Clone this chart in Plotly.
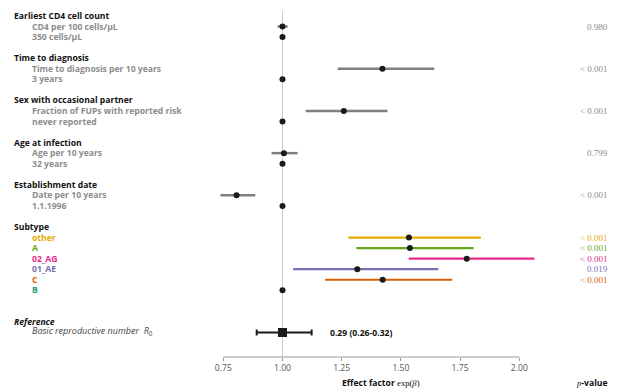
import plotly.graph_objects as go

# ---------------- data ----------------
groups = ["Earliest CD4 cell count", "Time to diagnosis", "Sex with occasional partner",
          "Age at infection", "Establishment date"]
effect_labels = ["CD4 per 100 cells/\u03bcL", "Time to diagnosis per 10 years",
                 "Fraction of FUPs with reported risk", "Age per 10 years", "Date per 10 years"]
baseline_labels = ["350 cells/\u03bcL", "3 years", "never reported", "32 years", "1.1.1996"]
est = [1.000, 1.422, 1.259, 1.006, 0.806]
lo = [0.979, 1.233, 1.098, 0.954, 0.738]
hi = [1.022, 1.641, 1.443, 1.064, 0.885]
pvals = ["0.980", "< 0.001", "< 0.001", "0.799", "< 0.001"]

subtypes = ["other", "A", "02_AG", "01_AE", "C"]
subtype_baseline = "B"
sub_est = [1.534, 1.538, 1.778, 1.316, 1.423]
sub_lo = [1.278, 1.312, 1.533, 1.045, 1.180]
sub_hi = [1.838, 1.807, 2.064, 1.658, 1.717]
sub_p = ["< 0.001", "< 0.001", "< 0.001", "0.019", "< 0.001"]
sub_colors = ["#E6AB02", "#66A61E", "#E7298A", "#7570B3", "#D95F02"]
baseline_color = "#1B9E77"

ref_est = 1.0
ref_lo = 0.891
ref_hi = 1.123
ref_text = "0.29 (0.26-0.32)"

x_ticks = [0.75, 1.00, 1.25, 1.50, 1.75, 2.00]
x_ticktext = ["0.75", "1.00", "1.25", "1.50", "1.75", "2.00"]

# ---------------- layout helpers ----------------
L, R, T, B = 212, 74, 0, 33
W, H = 617, 390
PW = W - L - R
PH = H - T - B


def px(xpix):
    return (xpix - L) / PW


def py(ypix):
    return (PH + T - ypix) / PH


LABEL_FONT = "Open Sans"
SERIF = "Liberation Serif"
SUBGRAY = "#8c8c8c"
PGRAY = "#8a8a8a"
FS = 8.6

fig = go.Figure()

# row assignments
head_rows = [4 * i for i in range(len(groups))]
eff_rows = [4 * i + 1 for i in range(len(groups))]
base_rows = [4 * i + 2 for i in range(len(groups))]
sub_head_row = 20
sub_rows = [21 + i for i in range(len(subtypes))]
sub_base_row = 21 + len(subtypes)
ref_head_row = 29
ref_row = 30

# reference vertical line
fig.add_shape(type="line", x0=1, x1=1, y0=-0.5, y1=32.32, xref="x", yref="y",
              line=dict(color="#cccccc", width=1), layer="below")
# axis line
fig.add_shape(type="line", x0=x_ticks[0], x1=x_ticks[-1], y0=0, y1=0, xref="x", yref="paper",
              line=dict(color="#9a9a9a", width=1))

# gray CIs
fig.add_trace(go.Scatter(
    x=est, y=eff_rows, mode="markers",
    marker=dict(size=6, color="#1a1a1a"),
    error_x=dict(type="data", symmetric=False,
                 array=[h - e for h, e in zip(hi, est)],
                 arrayminus=[e - l for e, l in zip(est, lo)],
                 color="#7f7f7f", thickness=2.5, width=0),
    showlegend=False, hoverinfo="skip"))
# subtype CIs
for i, s in enumerate(subtypes):
    fig.add_trace(go.Scatter(
        x=[sub_est[i]], y=[sub_rows[i]], mode="markers",
        marker=dict(size=6, color="#1a1a1a"),
        error_x=dict(type="data", symmetric=False,
                     array=[sub_hi[i] - sub_est[i]],
                     arrayminus=[sub_est[i] - sub_lo[i]],
                     color=sub_colors[i], thickness=2.2, width=0),
        showlegend=False, hoverinfo="skip"))
# baseline points
fig.add_trace(go.Scatter(
    x=[1.0] * (len(base_rows) + 1), y=base_rows + [sub_base_row], mode="markers",
    marker=dict(size=6, color="#1a1a1a"), showlegend=False, hoverinfo="skip"))
# reference R0
fig.add_trace(go.Scatter(
    x=[ref_est], y=[ref_row], mode="markers",
    marker=dict(size=9, color="#1a1a1a", symbol="square"),
    error_x=dict(type="data", symmetric=False, array=[ref_hi - ref_est],
                 arrayminus=[ref_est - ref_lo], color="#1a1a1a", thickness=2, width=3),
    showlegend=False, hoverinfo="skip"))

ann = []


def row_to_paper(r):
    return py(16 + 10.55 * r)


HX = px(13)
SX = px(31)
PX = px(609)

for i, g in enumerate(groups):
    ann.append(dict(text=f"<b>{g}</b>", x=HX, y=row_to_paper(head_rows[i]),
                    font=dict(family=LABEL_FONT, size=FS, color="#111"), xanchor="left"))
    ann.append(dict(text=f"<b>{effect_labels[i]}</b>", x=SX, y=row_to_paper(eff_rows[i]),
                    font=dict(family=LABEL_FONT, size=FS, color=SUBGRAY), xanchor="left"))
    ann.append(dict(text=f"<b>{baseline_labels[i]}</b>", x=SX, y=row_to_paper(base_rows[i]),
                    font=dict(family=LABEL_FONT, size=FS, color=SUBGRAY), xanchor="left"))
    ann.append(dict(text=pvals[i], x=PX, y=row_to_paper(eff_rows[i]),
                    font=dict(family=SERIF, size=9, color=PGRAY), xanchor="right"))

ann.append(dict(text="<b>Subtype</b>", x=HX, y=row_to_paper(sub_head_row),
                font=dict(family=LABEL_FONT, size=FS, color="#111"), xanchor="left"))
for i, s in enumerate(subtypes):
    ann.append(dict(text=f"<b>{s}</b>", x=SX, y=row_to_paper(sub_rows[i]),
                    font=dict(family=LABEL_FONT, size=FS, color=sub_colors[i]), xanchor="left"))
    ann.append(dict(text=sub_p[i], x=PX, y=row_to_paper(sub_rows[i]),
                    font=dict(family=SERIF, size=9, color=sub_colors[i]), xanchor="right"))
ann.append(dict(text=f"<b>{subtype_baseline}</b>", x=SX, y=row_to_paper(sub_base_row),
                font=dict(family=LABEL_FONT, size=FS, color=baseline_color), xanchor="left"))

ann.append(dict(text="<b><i>Reference</i></b>", x=HX, y=row_to_paper(ref_head_row),
                font=dict(family=LABEL_FONT, size=FS, color="#111"), xanchor="left"))
ann.append(dict(text="<i>Basic reproductive number  R</i><sub>0</sub>", x=SX,
                y=row_to_paper(ref_row) + 0.004,
                font=dict(family=LABEL_FONT, size=9, color="#444"), xanchor="left"))
ann.append(dict(text=f"<b>{ref_text}</b>", x=px(329), y=row_to_paper(ref_row),
                font=dict(family=LABEL_FONT, size=FS, color="#111"), xanchor="left"))

# axis titles
ann.append(dict(text="<b>Effect factor</b> <span style='font-family:Liberation Serif'>exp(<i>\u03b2</i>)</span>",
                x=px(421), y=py(383), xanchor="right",
                font=dict(family=LABEL_FONT, size=FS, color="#111")))
ann.append(dict(text="<i><span style='font-family:Liberation Serif'>p</span></i><b>-value</b>",
                x=PX, y=py(383), xanchor="right",
                font=dict(family=LABEL_FONT, size=FS, color="#111")))

for a in ann:
    a.update(xref="paper", yref="paper", showarrow=False, yanchor="middle", borderpad=0)

fig.update_layout(
    width=W, height=H,
    margin=dict(l=L, r=R, t=T, b=B, pad=0),
    paper_bgcolor="white", plot_bgcolor="white",
    annotations=ann,
    xaxis=dict(range=[0.7023, 2.1001], tickvals=x_ticks, ticktext=x_ticktext,
               showgrid=False, zeroline=False, showline=False,
               ticks="outside", ticklen=3, tickcolor="#9a9a9a", tickwidth=1,
               tickfont=dict(family=LABEL_FONT, size=FS, color="#555")),
    yaxis=dict(range=[32.322, -1.5166], visible=False, showgrid=False, zeroline=False),
)

fig.write_html("out.html", config={"displayModeBar": False},
               post_script="document.body.style.margin='0';document.body.style.overflow='hidden';")
